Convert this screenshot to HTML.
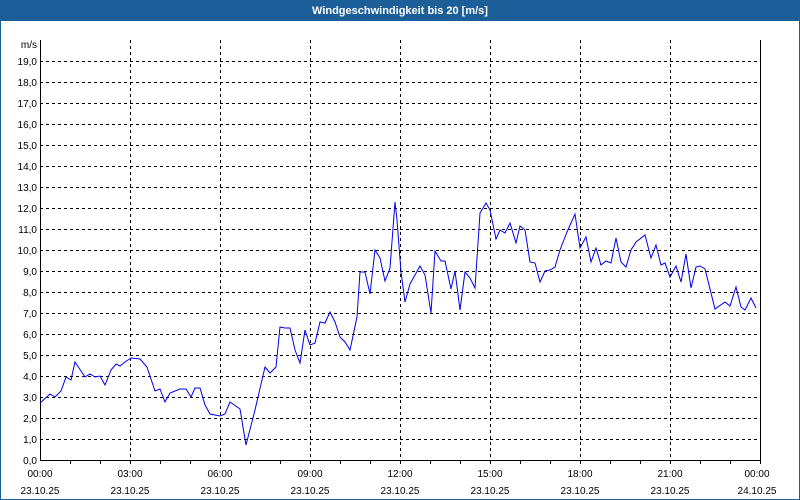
<!DOCTYPE html>
<html><head><meta charset="utf-8"><style>
html,body{margin:0;padding:0;background:#fff}
svg{display:block}
text{font-family:"Liberation Sans","DejaVu Sans",sans-serif}
</style></head><body>
<svg width="800" height="500" viewBox="0 0 800 500" xmlns="http://www.w3.org/2000/svg">
<rect x="0" y="0" width="800" height="500" fill="#fff"/>
<rect x="0" y="0" width="800" height="21" fill="#1c5f98"/>
<rect x="0.5" y="20.5" width="799" height="479" fill="none" stroke="#1c5f98" stroke-width="1"/>
<text x="400" y="14" fill="#fff" font-size="11" font-weight="bold" text-anchor="middle">Windgeschwindigkeit bis 20 [m/s]</text>
<g stroke="#000" stroke-width="1" stroke-dasharray="3,3" fill="none">
<path d="M40 61.5H760M40 82.5H760M40 103.5H760M40 124.5H760M40 145.5H760M40 166.5H760M40 187.5H760M40 208.5H760M40 229.5H760M40 250.5H760M40 271.5H760M40 292.5H760M40 313.5H760M40 334.5H760M40 355.5H760M40 376.5H760M40 397.5H760M40 418.5H760M40 439.5H760"/>
<path d="M130.5 40V460M220.5 40V460M310.5 40V460M400.5 40V460M490.5 40V460M580.5 40V460M670.5 40V460"/>
</g>
<path d="M40.5 40V460.5H760.5V40" fill="none" stroke="#000" stroke-width="1"/>
<g stroke="#000" stroke-width="1">
<path d="M70.5 460v4M100.5 460v4M130.5 460v4M160.5 460v4M190.5 460v4M220.5 460v4M250.5 460v4M280.5 460v4M310.5 460v4M340.5 460v4M370.5 460v4M400.5 460v4M430.5 460v4M460.5 460v4M490.5 460v4M520.5 460v4M550.5 460v4M580.5 460v4M610.5 460v4M640.5 460v4M670.5 460v4M700.5 460v4M730.5 460v4M760.5 460v4"/>
</g>
<g font-size="10" fill="#000" text-anchor="end">
<text x="37" y="48">m/s</text>
<text x="37" y="65">19,0</text><text x="37" y="86">18,0</text><text x="37" y="107">17,0</text><text x="37" y="128">16,0</text><text x="37" y="149">15,0</text><text x="37" y="170">14,0</text><text x="37" y="191">13,0</text><text x="37" y="212">12,0</text><text x="37" y="233">11,0</text><text x="37" y="254">10,0</text><text x="37" y="275">9,0</text><text x="37" y="296">8,0</text><text x="37" y="317">7,0</text><text x="37" y="338">6,0</text><text x="37" y="359">5,0</text><text x="37" y="380">4,0</text><text x="37" y="401">3,0</text><text x="37" y="422">2,0</text><text x="37" y="443">1,0</text><text x="37" y="464">0,0</text>
</g>
<g font-size="10" fill="#000" text-anchor="middle">
<text x="40" y="477">00:00</text><text x="40" y="494">23.10.25</text>
<text x="130" y="477">03:00</text><text x="130" y="494">23.10.25</text>
<text x="220" y="477">06:00</text><text x="220" y="494">23.10.25</text>
<text x="310" y="477">09:00</text><text x="310" y="494">23.10.25</text>
<text x="400" y="477">12:00</text><text x="400" y="494">23.10.25</text>
<text x="490" y="477">15:00</text><text x="490" y="494">23.10.25</text>
<text x="580" y="477">18:00</text><text x="580" y="494">23.10.25</text>
<text x="670" y="477">21:00</text><text x="670" y="494">23.10.25</text>
<text x="757" y="477">00:00</text><text x="757" y="494">24.10.25</text>
</g>
<polyline fill="none" stroke="#0000ee" stroke-width="1" points="40,403 50,394 55,397 61,391 66,377 71,380 75,362 85,377 90,374 95,377 100,376 105,385 111,370 116,364 120,366 125,362 131,358 140,359 147,367 155,391 160,389 165,402 170,393 180,389 186,389 191,397 195,388 200,388 205,405 210,414 220,416 225,414 230,402 240,409 246,445 255,410 265,367 270,373 276,367 280,327 285,328 290,328 295,350 300,363 305,330 310,345 315,343 320,322 325,323 330,312 335,322 340,337 345,342 350,350 357,317 360,272 365,272 370,294 375,250 380,258 385,281 390,268 395,202 397,220 401,272 405,302 410,284 420,266 425,275 431,313 435,251 441,261 445,261 451,289 455,271 460,310 465,272 470,278 475,288 480,213 486,203 490,210 496,239 500,230 505,233 510,223 516,243 520,226 525,230 530,262 535,263 540,282 545,271 550,270 555,267 560,250 567,232 575,214 580,248 586,237 591,262 596,248 601,265 606,261 611,263 616,238 621,262 626,267 631,250 636,242 645,235 651,258 656,245 661,265 665,263 670,277 676,266 681,282 686,254 691,288 696,267 700,266 705,269 715,309 725,302 730,306 736,287 741,307 745,310 751,298 756,308"/>
</svg>
</body></html>
